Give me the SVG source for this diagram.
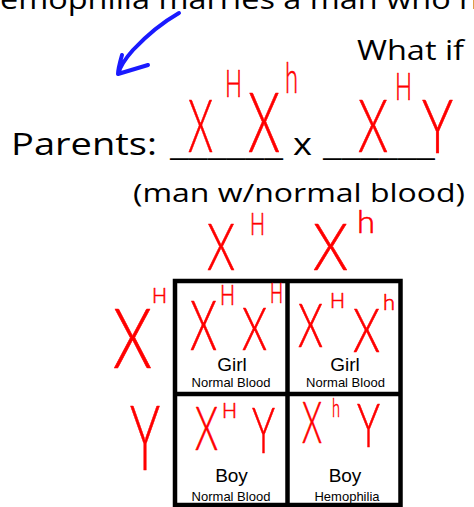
<svg xmlns="http://www.w3.org/2000/svg" width="474" height="507" viewBox="0 0 474 507">
<style>
.t{font-family:"Open Sans","Liberation Sans",sans-serif;fill:#000}
.hw{font-family:Lato,"Liberation Sans",sans-serif;font-weight:300;fill:#ff0000;stroke:#ff0000;stroke-width:0.6;stroke-linejoin:round}
.c{font-family:"Liberation Sans",Arial,sans-serif;fill:#000;text-anchor:middle}
.grid{fill:none;stroke:#000;stroke-width:4.5}
</style>
<rect width="474" height="507" fill="#fff"/>
<g id="header">
<text class="t" x="0" y="9" font-size="28" textLength="479" lengthAdjust="spacingAndGlyphs">emophilia marries a man who h</text>
<text class="t" x="357" y="60" font-size="28" textLength="107" lengthAdjust="spacingAndGlyphs">What if</text>
</g>
<g id="connectors">
<path d="M179,13 C165,21 150,32 133,50 C125,59 120,67 118,74 M122,55 C120,62 118,69 118,74 C128,71 138,68 148,65" fill="none" stroke="#1a1aff" stroke-width="4" stroke-linecap="round" stroke-linejoin="round"/>
</g>
<g id="parents">
<text class="t" x="11" y="155" font-size="31" textLength="146" lengthAdjust="spacingAndGlyphs">Parents:</text>
<text class="t" x="170" y="155" font-size="31" textLength="113" lengthAdjust="spacingAndGlyphs">______</text>
<text class="t" x="293" y="155" font-size="31" textLength="19" lengthAdjust="spacingAndGlyphs">x</text>
<text class="t" x="323" y="155" font-size="31" textLength="112" lengthAdjust="spacingAndGlyphs">______</text>
<text class="hw" x="188" y="152" font-size="72" textLength="25" lengthAdjust="spacingAndGlyphs">X</text>
<text class="hw" x="225" y="97" font-size="37" textLength="17" lengthAdjust="spacingAndGlyphs">H</text>
<text class="hw" x="248" y="152" font-size="82" textLength="32" lengthAdjust="spacingAndGlyphs">X</text>
<text class="hw" x="285" y="93" font-size="43" textLength="13" lengthAdjust="spacingAndGlyphs">h</text>
<text class="hw" x="358" y="152" font-size="72" textLength="30" lengthAdjust="spacingAndGlyphs">X</text>
<text class="hw" x="395" y="100" font-size="37" textLength="17" lengthAdjust="spacingAndGlyphs">H</text>
<text class="hw" x="422" y="153" font-size="74" textLength="31" lengthAdjust="spacingAndGlyphs">Y</text>
<text class="t" x="133" y="202" font-size="25" textLength="332" lengthAdjust="spacingAndGlyphs">(man w/normal blood)</text>
</g>
<g id="col-headers">
<text class="hw" x="207" y="270" font-size="65" textLength="28" lengthAdjust="spacingAndGlyphs">X</text>
<text class="hw" x="250" y="235" font-size="31" textLength="15" lengthAdjust="spacingAndGlyphs">H</text>
<text class="hw" x="313" y="270" font-size="65" textLength="35" lengthAdjust="spacingAndGlyphs">X</text>
<text class="hw" x="357" y="233" font-size="32" textLength="18" lengthAdjust="spacingAndGlyphs">h</text>
</g>
<g id="row-headers">
<text class="hw" x="113" y="368" font-size="83" textLength="39" lengthAdjust="spacingAndGlyphs">X</text>
<text class="hw" x="152" y="303" font-size="22" textLength="15" lengthAdjust="spacingAndGlyphs">H</text>
<text class="hw" x="130" y="470" font-size="90" textLength="30" lengthAdjust="spacingAndGlyphs">Y</text>
</g>
<g id="grid">
<rect class="grid" x="175" y="281" width="225.5" height="224"/>
<line class="grid" x1="287.5" y1="281" x2="287.5" y2="505"/>
<line class="grid" x1="175" y1="394" x2="400.5" y2="394"/>
</g>
<g id="cell-tl">
<text class="hw" x="190" y="350" font-size="69" textLength="27" lengthAdjust="spacingAndGlyphs">X</text>
<text class="hw" x="220" y="305" font-size="28" textLength="15" lengthAdjust="spacingAndGlyphs">H</text>
<text class="hw" x="242" y="350" font-size="60" textLength="25" lengthAdjust="spacingAndGlyphs">X</text>
<text class="hw" x="270" y="303" font-size="28" textLength="13" lengthAdjust="spacingAndGlyphs">H</text>
<text class="c" x="232" y="371" font-size="19">Girl</text>
<text class="c" x="231" y="387" font-size="13">Normal Blood</text>
</g>
<g id="cell-tr">
<text class="hw" x="298" y="347" font-size="61" textLength="25" lengthAdjust="spacingAndGlyphs">X</text>
<text class="hw" x="330" y="308" font-size="21" textLength="15" lengthAdjust="spacingAndGlyphs">H</text>
<text class="hw" x="353" y="352" font-size="62" textLength="27" lengthAdjust="spacingAndGlyphs">X</text>
<text class="hw" x="383" y="310" font-size="21" textLength="12" lengthAdjust="spacingAndGlyphs">h</text>
<text class="c" x="345" y="371" font-size="19">Girl</text>
<text class="c" x="345.5" y="387" font-size="13">Normal Blood</text>
</g>
<g id="cell-bl">
<text class="hw" x="195" y="450" font-size="62" textLength="23" lengthAdjust="spacingAndGlyphs">X</text>
<text class="hw" x="222" y="418" font-size="22" textLength="15" lengthAdjust="spacingAndGlyphs">H</text>
<text class="hw" x="252" y="453" font-size="64" textLength="23" lengthAdjust="spacingAndGlyphs">Y</text>
<text class="c" x="231.5" y="482" font-size="19">Boy</text>
<text class="c" x="231" y="501" font-size="13">Normal Blood</text>
</g>
<g id="cell-br">
<text class="hw" x="302" y="443" font-size="57" textLength="20" lengthAdjust="spacingAndGlyphs">X</text>
<text class="hw" x="332" y="417" font-size="26" textLength="8" lengthAdjust="spacingAndGlyphs">h</text>
<text class="hw" x="357" y="447" font-size="62" textLength="23" lengthAdjust="spacingAndGlyphs">Y</text>
<text class="c" x="345" y="482" font-size="19">Boy</text>
<text class="c" x="347" y="501" font-size="13">Hemophilia</text>
</g>
</svg>
